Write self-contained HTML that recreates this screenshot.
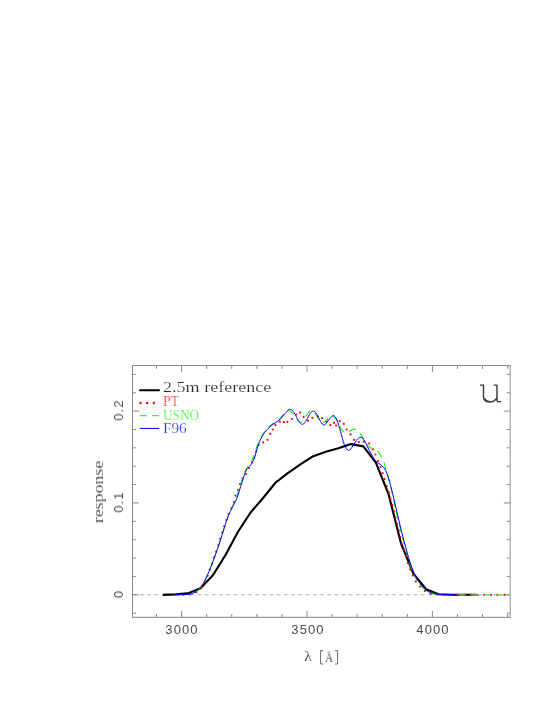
<!DOCTYPE html><html><head><meta charset="utf-8"><title>u</title><style>
html,body{margin:0;padding:0;background:#fff;}
body{width:545px;height:705px;position:relative;overflow:hidden;font-family:"Liberation Sans",sans-serif;}
.t{position:absolute;white-space:nowrap;line-height:1;color:#4a4a4a;will-change:transform;}
.sf{font-family:"Liberation Serif",serif;transform-origin:0 100%;-webkit-text-stroke:0.18px #fff;color:#2a2a2a;}
.xt{font-size:13px;letter-spacing:1.1px;transform:translateX(-50%);}
.yt{font-size:13px;letter-spacing:1.1px;transform-origin:0 0;}
</style></head><body>
<svg width="545" height="705" viewBox="0 0 545 705" style="position:absolute;left:0;top:0">
<defs><clipPath id="c"><rect x="132.5" y="365.5" width="377.7" height="251.9"/></clipPath></defs>
<path d="M132.5 594.8 H510.2" stroke="#a8a8a8" stroke-width="1.1" stroke-dasharray="3.4 3.8" stroke-dashoffset="-0.5" fill="none"/>
<path d="M156.52 617.40v-3.40 M156.52 365.50v3.40 M181.60 617.40v-6.40 M181.60 365.50v6.40 M206.68 617.40v-3.40 M206.68 365.50v3.40 M231.76 617.40v-3.40 M231.76 365.50v3.40 M256.84 617.40v-3.40 M256.84 365.50v3.40 M281.92 617.40v-3.40 M281.92 365.50v3.40 M307.00 617.40v-6.40 M307.00 365.50v6.40 M332.08 617.40v-3.40 M332.08 365.50v3.40 M357.16 617.40v-3.40 M357.16 365.50v3.40 M382.24 617.40v-3.40 M382.24 365.50v3.40 M407.32 617.40v-3.40 M407.32 365.50v3.40 M432.40 617.40v-6.40 M432.40 365.50v6.40 M457.48 617.40v-3.40 M457.48 365.50v3.40 M482.56 617.40v-3.40 M482.56 365.50v3.40 M507.64 617.40v-3.40 M507.64 365.50v3.40 M132.50 613.17h3.40 M510.20 613.17h-3.40 M132.50 594.80h6.40 M510.20 594.80h-6.40 M132.50 576.43h3.40 M510.20 576.43h-3.40 M132.50 558.06h3.40 M510.20 558.06h-3.40 M132.50 539.69h3.40 M510.20 539.69h-3.40 M132.50 521.32h3.40 M510.20 521.32h-3.40 M132.50 502.95h6.40 M510.20 502.95h-6.40 M132.50 484.58h3.40 M510.20 484.58h-3.40 M132.50 466.21h3.40 M510.20 466.21h-3.40 M132.50 447.84h3.40 M510.20 447.84h-3.40 M132.50 429.47h3.40 M510.20 429.47h-3.40 M132.50 411.10h6.40 M510.20 411.10h-6.40 M132.50 392.73h3.40 M510.20 392.73h-3.40 M132.50 374.36h3.40 M510.20 374.36h-3.40" stroke="#6a6a6a" stroke-width="0.8" fill="none"/>
<path d="M132.50 617.40V365.50H510.20" fill="none" stroke="#8a8a8a" stroke-width="1" stroke-linecap="square"/>
<path d="M132.50 617.40H510.20V365.50" fill="none" stroke="#9c9c9c" stroke-width="1.1" stroke-linecap="square"/>
<g clip-path="url(#c)" fill="none">
<path d="M162.79 594.90 L175.33 594.40 L187.87 593.40 L200.41 588.30 L212.95 575.20 L225.49 555.00 L238.03 531.80 L250.57 512.50 L263.11 498.00 L275.65 482.50 L288.19 472.80 L300.73 464.20 L313.27 456.20 L325.81 451.80 L338.35 448.20 L350.89 444.10 L363.43 446.40 L375.97 462.80 L388.51 494.00 L401.05 543.50 L413.59 574.00 L426.13 589.20 L438.67 594.20 L451.21 594.80 L463.75 594.80 L476.29 594.80" stroke="#000" stroke-width="2.1" stroke-linejoin="round" stroke-linecap="butt"/>
<circle cx="183.2" cy="594.8" r="1.1" fill="#ff0000"/>
<circle cx="190.0" cy="594.5" r="1.1" fill="#ff0000"/>
<circle cx="196.4" cy="592.3" r="1.1" fill="#ff0000"/>
<circle cx="201.7" cy="587.6" r="1.1" fill="#ff0000"/>
<circle cx="205.2" cy="581.8" r="1.1" fill="#ff0000"/>
<circle cx="207.7" cy="575.8" r="1.1" fill="#ff0000"/>
<circle cx="209.9" cy="569.7" r="1.1" fill="#ff0000"/>
<circle cx="212.1" cy="563.7" r="1.1" fill="#ff0000"/>
<circle cx="214.0" cy="557.6" r="1.1" fill="#ff0000"/>
<circle cx="216.2" cy="551.6" r="1.1" fill="#ff0000"/>
<circle cx="218.2" cy="545.3" r="1.1" fill="#ff0000"/>
<circle cx="220.2" cy="538.8" r="1.1" fill="#ff0000"/>
<circle cx="222.2" cy="532.5" r="1.1" fill="#ff0000"/>
<circle cx="224.2" cy="526.2" r="1.1" fill="#ff0000"/>
<circle cx="226.4" cy="520.0" r="1.1" fill="#ff0000"/>
<circle cx="228.6" cy="513.9" r="1.1" fill="#ff0000"/>
<circle cx="231.3" cy="508.0" r="1.1" fill="#ff0000"/>
<circle cx="233.9" cy="502.0" r="1.1" fill="#ff0000"/>
<circle cx="235.5" cy="495.6" r="1.1" fill="#ff0000"/>
<circle cx="238.0" cy="490.0" r="1.1" fill="#ff0000"/>
<circle cx="240.0" cy="484.0" r="1.1" fill="#ff0000"/>
<circle cx="242.5" cy="478.5" r="1.1" fill="#ff0000"/>
<circle cx="246.0" cy="474.0" r="1.1" fill="#ff0000"/>
<circle cx="249.0" cy="468.0" r="1.1" fill="#ff0000"/>
<circle cx="252.0" cy="462.5" r="1.1" fill="#ff0000"/>
<circle cx="254.0" cy="457.6" r="1.1" fill="#ff0000"/>
<circle cx="256.0" cy="451.5" r="1.1" fill="#ff0000"/>
<circle cx="258.5" cy="445.0" r="1.1" fill="#ff0000"/>
<circle cx="263.2" cy="442.3" r="1.1" fill="#ff0000"/>
<circle cx="267.6" cy="439.8" r="1.1" fill="#ff0000"/>
<circle cx="270.3" cy="433.9" r="1.1" fill="#ff0000"/>
<circle cx="272.8" cy="429.5" r="1.1" fill="#ff0000"/>
<circle cx="275.4" cy="425.1" r="1.1" fill="#ff0000"/>
<circle cx="279.8" cy="421.7" r="1.1" fill="#ff0000"/>
<circle cx="283.8" cy="422.2" r="1.1" fill="#ff0000"/>
<circle cx="287.4" cy="421.9" r="1.1" fill="#ff0000"/>
<circle cx="291.9" cy="418.8" r="1.1" fill="#ff0000"/>
<circle cx="296.3" cy="414.5" r="1.1" fill="#ff0000"/>
<circle cx="300.2" cy="412.6" r="1.1" fill="#ff0000"/>
<circle cx="303.6" cy="417.0" r="1.1" fill="#ff0000"/>
<circle cx="308.0" cy="420.7" r="1.1" fill="#ff0000"/>
<circle cx="312.4" cy="417.8" r="1.1" fill="#ff0000"/>
<circle cx="317.5" cy="416.3" r="1.1" fill="#ff0000"/>
<circle cx="322.2" cy="418.2" r="1.1" fill="#ff0000"/>
<circle cx="326.4" cy="421.4" r="1.1" fill="#ff0000"/>
<circle cx="330.3" cy="425.1" r="1.1" fill="#ff0000"/>
<circle cx="334.0" cy="422.9" r="1.1" fill="#ff0000"/>
<circle cx="336.2" cy="425.5" r="1.1" fill="#ff0000"/>
<circle cx="339.8" cy="421.1" r="1.1" fill="#ff0000"/>
<circle cx="343.8" cy="423.9" r="1.1" fill="#ff0000"/>
<circle cx="346.7" cy="429.5" r="1.1" fill="#ff0000"/>
<circle cx="350.5" cy="434.4" r="1.1" fill="#ff0000"/>
<circle cx="354.1" cy="439.8" r="1.1" fill="#ff0000"/>
<circle cx="358.9" cy="442.0" r="1.1" fill="#ff0000"/>
<circle cx="363.8" cy="441.7" r="1.1" fill="#ff0000"/>
<circle cx="369.2" cy="443.5" r="1.1" fill="#ff0000"/>
<circle cx="372.9" cy="449.3" r="1.1" fill="#ff0000"/>
<circle cx="375.5" cy="454.5" r="1.1" fill="#ff0000"/>
<circle cx="378.0" cy="461.1" r="1.1" fill="#ff0000"/>
<circle cx="380.5" cy="467.0" r="1.1" fill="#ff0000"/>
<circle cx="382.5" cy="473.2" r="1.1" fill="#ff0000"/>
<circle cx="384.5" cy="479.1" r="1.1" fill="#ff0000"/>
<circle cx="386.9" cy="486.1" r="1.1" fill="#ff0000"/>
<circle cx="388.9" cy="492.6" r="1.1" fill="#ff0000"/>
<circle cx="390.4" cy="498.9" r="1.1" fill="#ff0000"/>
<circle cx="392.3" cy="505.2" r="1.1" fill="#ff0000"/>
<circle cx="394.1" cy="511.4" r="1.1" fill="#ff0000"/>
<circle cx="395.5" cy="517.6" r="1.1" fill="#ff0000"/>
<circle cx="397.2" cy="523.9" r="1.1" fill="#ff0000"/>
<circle cx="398.9" cy="530.5" r="1.1" fill="#ff0000"/>
<circle cx="400.4" cy="537.0" r="1.1" fill="#ff0000"/>
<circle cx="401.9" cy="544.0" r="1.1" fill="#ff0000"/>
<circle cx="404.1" cy="549.8" r="1.1" fill="#ff0000"/>
<circle cx="405.9" cy="556.4" r="1.1" fill="#ff0000"/>
<circle cx="407.8" cy="563.0" r="1.1" fill="#ff0000"/>
<circle cx="410.3" cy="569.4" r="1.1" fill="#ff0000"/>
<circle cx="412.9" cy="575.5" r="1.1" fill="#ff0000"/>
<circle cx="415.8" cy="581.4" r="1.1" fill="#ff0000"/>
<circle cx="420.2" cy="586.5" r="1.1" fill="#ff0000"/>
<circle cx="424.9" cy="590.9" r="1.1" fill="#ff0000"/>
<circle cx="430.8" cy="593.7" r="1.1" fill="#ff0000"/>
<circle cx="437.5" cy="594.5" r="1.1" fill="#ff0000"/>
<circle cx="444.2" cy="594.8" r="1.1" fill="#ff0000"/>
<circle cx="450.8" cy="594.8" r="1.1" fill="#ff0000"/>
<circle cx="457.6" cy="594.8" r="1.1" fill="#ff0000"/>
<circle cx="464.3" cy="594.8" r="1.1" fill="#ff0000"/>
<circle cx="470.9" cy="594.8" r="1.1" fill="#ff0000"/>
<circle cx="477.5" cy="594.8" r="1.1" fill="#ff0000"/>
<circle cx="484.1" cy="594.8" r="1.1" fill="#ff0000"/>
<circle cx="491.0" cy="594.8" r="1.1" fill="#ff0000"/>
<circle cx="497.6" cy="594.8" r="1.1" fill="#ff0000"/>
<circle cx="504.5" cy="594.8" r="1.1" fill="#ff0000"/>
<path d="M175.50 594.80 C176.75 594.77 180.62 594.70 183.00 594.60 C185.38 594.50 187.80 594.58 189.80 594.20 C191.80 593.82 193.35 593.27 195.00 592.30 C196.65 591.33 198.37 589.78 199.70 588.40 C201.03 587.02 201.72 586.20 203.00 584.00 C204.28 581.80 205.57 579.42 207.40 575.20 C209.23 570.98 211.88 564.38 214.00 558.70 C216.12 553.02 217.97 547.55 220.10 541.10 C222.23 534.65 224.98 525.35 226.80 520.00 C228.62 514.65 229.47 512.55 231.00 509.00 C232.53 505.45 234.30 503.10 236.00 498.70 C237.70 494.30 239.60 487.37 241.20 482.60 C242.80 477.83 244.13 473.20 245.60 470.10 C247.07 467.00 248.65 466.35 250.00 464.00 C251.35 461.65 252.37 459.42 253.70 456.00 C255.03 452.58 256.28 447.43 258.00 443.50 C259.72 439.57 261.75 435.57 264.00 432.40 C266.25 429.23 268.93 426.70 271.50 424.50 C274.07 422.30 277.40 420.87 279.40 419.20 C281.40 417.53 282.02 415.93 283.50 414.50 C284.98 413.07 286.80 410.82 288.30 410.60 C289.80 410.38 291.08 411.72 292.50 413.20 C293.92 414.68 295.42 417.97 296.80 419.50 C298.18 421.03 299.47 422.57 300.80 422.40 C302.13 422.23 303.52 420.18 304.80 418.50 C306.08 416.82 307.33 413.58 308.50 412.30 C309.67 411.02 310.67 410.55 311.80 410.80 C312.93 411.05 314.10 412.27 315.30 413.80 C316.50 415.33 317.78 418.47 319.00 420.00 C320.22 421.53 321.33 422.97 322.60 423.00 C323.87 423.03 325.07 421.48 326.60 420.20 C328.13 418.92 330.33 415.58 331.80 415.30 C333.27 415.02 334.37 417.38 335.40 418.50 C336.43 419.62 337.23 420.58 338.00 422.00 C338.77 423.42 339.33 425.63 340.00 427.00 C340.67 428.37 341.25 429.28 342.00 430.20 C342.75 431.12 343.63 432.13 344.50 432.50 C345.37 432.87 345.85 432.90 347.20 432.40 C348.55 431.90 351.22 430.02 352.60 429.50 C353.98 428.98 354.62 429.05 355.50 429.30 C356.38 429.55 356.83 429.87 357.90 431.00 C358.97 432.13 360.38 433.90 361.90 436.10 C363.42 438.30 365.65 442.30 367.00 444.20 C368.35 446.10 368.78 446.65 370.00 447.50 C371.22 448.35 372.85 448.50 374.30 449.30 C375.75 450.10 377.42 450.83 378.70 452.30 C379.98 453.77 381.07 456.20 382.00 458.10 C382.93 460.00 383.62 461.62 384.30 463.70 C384.98 465.78 385.57 468.83 386.10 470.60 C386.63 472.37 386.68 471.32 387.50 474.30 C388.32 477.28 389.68 482.88 391.00 488.50 C392.32 494.12 393.80 501.08 395.40 508.00 C397.00 514.92 398.77 522.67 400.60 530.00 C402.43 537.33 404.33 544.90 406.40 552.00 C408.47 559.10 410.82 567.35 413.00 572.60 C415.18 577.85 417.40 580.57 419.50 583.50 C421.60 586.43 423.68 588.65 425.60 590.20 C427.52 591.75 429.20 592.13 431.00 592.80 C432.80 593.47 434.07 593.87 436.40 594.20 C438.73 594.53 443.57 594.70 445.00 594.80" stroke="#00ff00" stroke-width="1.05" stroke-dasharray="7.2 5.7" stroke-dashoffset="4.1"/>
<path d="M458.6 594.8H465.5M471.5 594.8H478.5M484.6 594.8H490.4M496.5 594.8H503.5M509 594.8H511" stroke="#40ff40" stroke-width="1.2"/>
<circle cx="464.3" cy="594.8" r="0.9" fill="#8a7000"/>
<circle cx="477.4" cy="594.8" r="0.9" fill="#8a7000"/>
<circle cx="497.1" cy="594.8" r="0.9" fill="#8a7000"/>
<path d="M175.50 594.80 C176.75 594.77 180.62 594.70 183.00 594.60 C185.38 594.50 187.80 594.58 189.80 594.20 C191.80 593.82 193.35 593.27 195.00 592.30 C196.65 591.33 198.37 589.78 199.70 588.40 C201.03 587.02 201.72 586.20 203.00 584.00 C204.28 581.80 205.57 579.42 207.40 575.20 C209.23 570.98 211.88 564.38 214.00 558.70 C216.12 553.02 217.97 547.55 220.10 541.10 C222.23 534.65 224.90 525.35 226.80 520.00 C228.70 514.65 229.85 512.55 231.50 509.00 C233.15 505.45 234.97 503.10 236.70 498.70 C238.43 494.30 240.30 487.37 241.90 482.60 C243.50 477.83 244.83 473.03 246.30 470.10 C247.77 467.17 249.35 467.00 250.70 465.00 C252.05 463.00 253.05 461.68 254.40 458.10 C255.75 454.52 257.08 447.78 258.80 443.50 C260.52 439.22 262.50 435.47 264.70 432.40 C266.90 429.33 269.55 427.17 272.00 425.10 C274.45 423.03 277.32 421.83 279.40 420.00 C281.48 418.17 282.80 415.87 284.50 414.10 C286.20 412.33 288.00 409.65 289.60 409.40 C291.20 409.15 292.62 410.72 294.10 412.60 C295.58 414.48 297.08 418.73 298.50 420.70 C299.92 422.67 301.27 424.52 302.60 424.40 C303.93 424.28 305.23 421.83 306.50 420.00 C307.77 418.17 309.05 414.87 310.20 413.40 C311.35 411.93 312.30 411.08 313.40 411.20 C314.50 411.32 315.62 412.40 316.80 414.10 C317.98 415.80 319.27 419.57 320.50 421.40 C321.73 423.23 322.93 425.22 324.20 425.10 C325.47 424.98 326.60 422.28 328.10 420.70 C329.60 419.12 331.73 415.72 333.20 415.60 C334.67 415.48 335.67 417.32 336.90 420.00 C338.13 422.68 339.38 427.67 340.60 431.70 C341.82 435.73 342.87 441.07 344.20 444.20 C345.53 447.33 347.13 450.25 348.60 450.50 C350.07 450.75 351.53 447.60 353.00 445.70 C354.47 443.80 356.05 440.50 357.40 439.10 C358.75 437.70 359.87 436.93 361.10 437.30 C362.33 437.67 363.33 438.93 364.80 441.30 C366.27 443.67 368.07 448.20 369.90 451.50 C371.73 454.80 373.83 458.77 375.80 461.10 C377.77 463.43 380.12 464.03 381.70 465.50 C383.28 466.97 384.33 468.32 385.30 469.90 C386.27 471.48 386.45 471.75 387.50 475.00 C388.55 478.25 390.18 483.90 391.60 489.40 C393.02 494.90 394.40 501.23 396.00 508.00 C397.60 514.77 399.37 522.67 401.20 530.00 C403.03 537.33 404.93 544.90 407.00 552.00 C409.07 559.10 411.43 567.35 413.60 572.60 C415.77 577.85 417.92 580.57 420.00 583.50 C422.08 586.43 424.27 588.65 426.10 590.20 C427.93 591.75 429.28 592.13 431.00 592.80 C432.72 593.47 434.07 593.90 436.40 594.20 C438.73 594.50 441.67 594.50 445.00 594.60 C448.33 594.70 454.50 594.77 456.40 594.80" stroke="#0000ff" stroke-width="1.0"/>
</g>
<path d="M140 390.3H159" stroke="#000" stroke-width="2.1" stroke-linecap="round"/>
<circle cx="140.5" cy="402.9" r="1.25" fill="#ff0000"/>
<circle cx="147.2" cy="402.9" r="1.25" fill="#ff0000"/>
<circle cx="153.9" cy="402.9" r="1.25" fill="#ff0000"/>
<path d="M139.8 415.6H146.9M152 415.6H159.1" stroke="#30ff30" stroke-width="1.25"/>
<path d="M139.8 428.4H159.1" stroke="#0000ff" stroke-width="1.05"/>
</svg>
<div class="t xt" style="left:182.1px;top:623.2px">3000</div>
<div class="t xt" style="left:307.5px;top:623.2px">3500</div>
<div class="t xt" style="left:432.9px;top:623.2px">4000</div>
<div class="t yt" style="left:112.2px;top:594.1px;transform:rotate(-90deg) translate(-50%,0)">0</div>
<div class="t yt" style="left:112.2px;top:502.2px;transform:rotate(-90deg) translate(-50%,0)">0.1</div>
<div class="t yt" style="left:112.2px;top:410.4px;transform:rotate(-90deg) translate(-50%,0)">0.2</div>
<div class="t sf" style="left:91.4px;top:491.5px;font-size:15px;transform-origin:0 0;transform:rotate(-90deg) scaleX(1.19) translate(-50%,0)">response</div>
<div class="t sf" style="left:304px;top:650px;font-size:14px;transform-origin:0 0;transform:scaleX(1.17)">&#955;</div>
<div class="t sf" style="left:324.7px;top:651.6px;font-size:12.5px;transform-origin:0 0;transform:scaleX(0.9);-webkit-text-stroke:0.05px #fff;color:#333">&#197;</div>
<svg width="30" height="20" viewBox="315 648 30 20" style="position:absolute;left:315px;top:648px"><path d="M323.2 650.6H320.6V664H323.2 M335 650.6H337.6V664H335" fill="none" stroke="#5a5a5a" stroke-width="0.9"/></svg>
<div class="t sf" style="left:163.3px;top:381.4px;font-size:14px;color:#262626;transform-origin:0 0;transform:scaleX(1.290)">2.5m reference</div>
<div class="t sf" style="left:163.3px;top:394.6px;font-size:14px;color:#ff3838;transform-origin:0 0;transform:scaleX(0.980)">PT</div>
<div class="t sf" style="left:163.3px;top:408.5px;font-size:14px;color:#38ff38;transform-origin:0 0;transform:scaleX(0.945)">USNO</div>
<div class="t sf" style="left:163.3px;top:422.0px;font-size:14px;color:#3838ff;transform-origin:0 0;transform:scaleX(1.090)">F96</div>
<svg width="40" height="30" viewBox="475 378 40 30" style="position:absolute;left:475px;top:378px"><g fill="none" stroke="#3c3c3c" stroke-width="1.45"><path d="M480 385.1H484.0 M483.5 385V396.5C483.5 400 486 401.9 489.3 401.9C492.6 401.9 495.6 400.3 497 397.6 M493.6 385.1H497.1 M497 385V401.6 M497 401.6H501.2"/><path d="M484.6 398.2C485.6 401 487.6 401.6 489.8 401.5" stroke-width="1.6"/></g></svg>
</body></html>
